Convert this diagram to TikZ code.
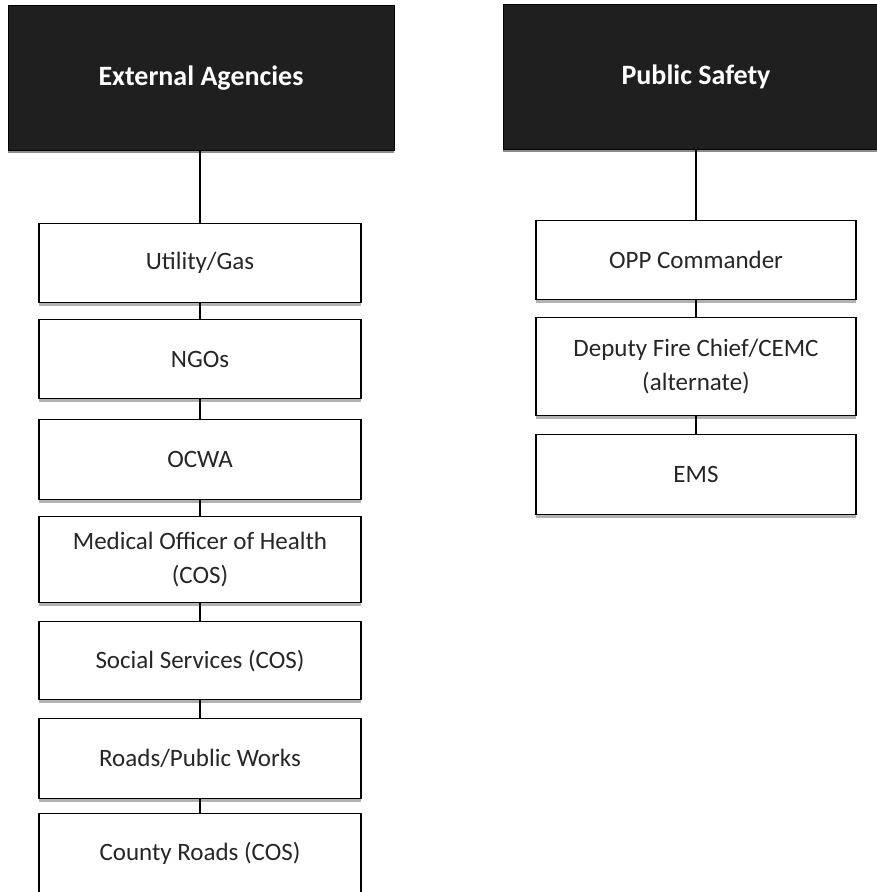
\documentclass[tikz,border=0pt]{standalone}
\usepackage{fontspec}
\setmainfont{Carlito}
\usetikzlibrary{shadows}

\begin{document}
\begin{tikzpicture}[x=1pt, y=-1pt,
    headbox/.style={draw=black, fill=black!88, text=white, font=\fontsize{28}{32}\selectfont\bfseries,
      minimum width=386pt, minimum height=145pt, inner sep=0pt, anchor=north,
      drop shadow={shadow xshift=0pt, shadow yshift=-3pt, fill=black!45, opacity=1}},
    unitbox/.style={draw=black, line width=1.2pt, fill=white, text=black!85,
      font=\fontsize{25}{34}\selectfont, align=center, minimum height=79pt, inner sep=0pt, anchor=north,
      drop shadow={shadow xshift=0pt, shadow yshift=-3pt, fill=black!30, opacity=1}},
    link/.style={line width=1.2pt}]
  \useasboundingbox (0,0) rectangle (877,892);

  % EXTERNAL AGENCIES
  \node[headbox] (EA) at (201,5) {External Agencies};
  \node[unitbox, minimum width=322pt] (EA1) at (200,223) {Utility/Gas};
  \draw[link] (EA.south -| EA1.north) -- (EA1);
  \node[unitbox, minimum width=322pt] (EA2) at (200,319) {NGOs};
  \draw[link] (EA1) -- (EA2);
  \node[unitbox, minimum width=322pt, minimum height=80pt] (EA3) at (200,419) {OCWA};
  \draw[link] (EA2) -- (EA3);
  \node[unitbox, minimum width=322pt, minimum height=86pt] (EA4) at (200,516) {Medical Officer of Health\\(COS)};
  \draw[link] (EA3) -- (EA4);
  \node[unitbox, minimum width=322pt, minimum height=78pt] (EA5) at (200,621) {Social Services (COS)};
  \draw[link] (EA4) -- (EA5);
  \node[unitbox, minimum width=322pt, minimum height=80pt] (EA6) at (200,718) {Roads/Public Works};
  \draw[link] (EA5) -- (EA6);
  \node[unitbox, minimum width=322pt, minimum height=80pt] (EA7) at (200,813) {County Roads (COS)};
  \draw[link] (EA6) -- (EA7);

  % PUBLIC SAFETY
  \node[headbox] (PS) at (696,4) {Public Safety};
  \node[unitbox, minimum width=320pt] (PS1) at (696,220) {OPP Commander};
  \draw[link] (PS) -- (PS1);
  \node[unitbox, minimum width=320pt, minimum height=98pt] (PS2) at (696,317) {Deputy Fire Chief/CEMC\\(alternate)};
  \draw[link] (PS1) -- (PS2);
  \node[unitbox, minimum width=320pt, minimum height=80pt] (PS3) at (696,434) {EMS};
  \draw[link] (PS2) -- (PS3);
\end{tikzpicture}
\end{document}
